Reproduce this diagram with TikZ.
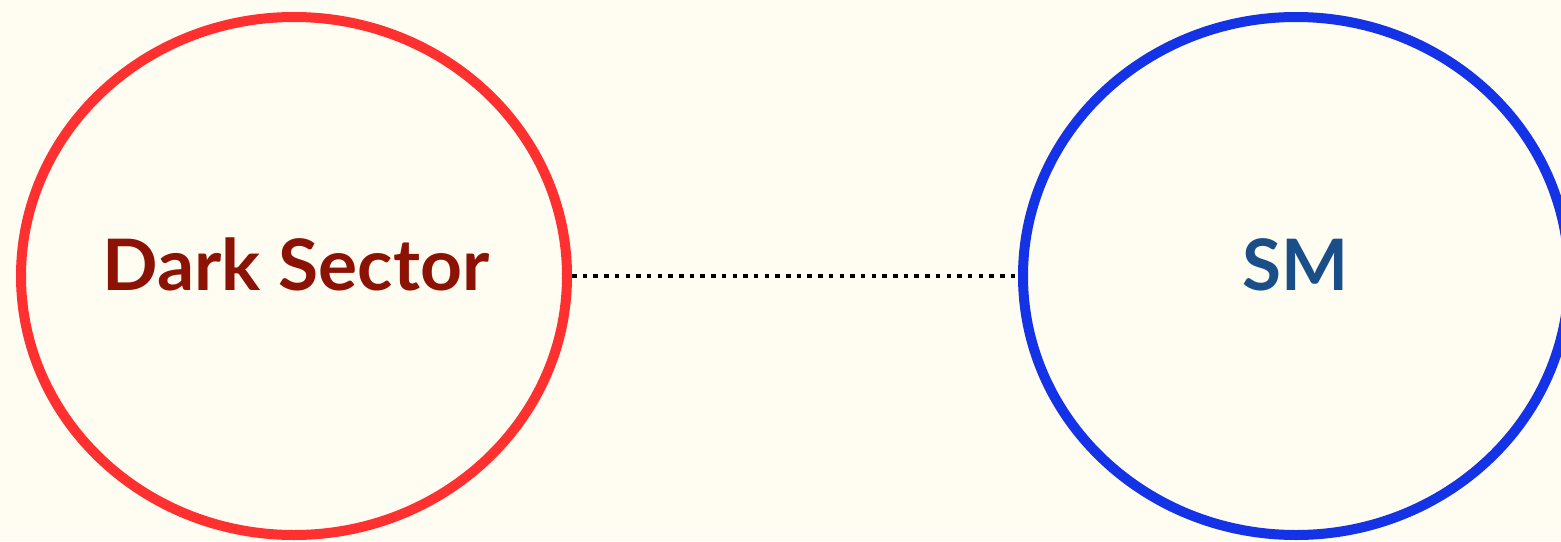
\documentclass[tikz,border=0pt]{standalone}
\usepackage{fontspec}
\setmainfont{Lato}
\usetikzlibrary{shapes.geometric}
\definecolor{bg}{HTML}{FFFDF2}
\definecolor{redline}{HTML}{FF3030}
\definecolor{redtext}{HTML}{8B1205}
\definecolor{blueline}{HTML}{1533E6}
\definecolor{bluetext}{HTML}{1A4E88}
\tikzset{
  sector/.style={ellipse, inner sep=0pt, minimum width=546pt, minimum height=518pt, line width=10pt},
  sectorlabel/.style={anchor=base, inner sep=0pt, font=\fontsize{71}{80}\selectfont\bfseries},
  link/.style={line width=4.5pt, dash pattern=on 4.5pt off 6.2pt, black}
}
\begin{document}
\begin{tikzpicture}[x=1pt,y=-1pt]
\fill[bg] (0,0) rectangle (1561,541);
\useasboundingbox (0,0) rectangle (1561,541);
\node[sector, draw=redline] (ds) at (294,276) {};
\node[sector, draw=blueline] (sm) at (1296,276) {};
\node[sectorlabel, text=redtext, xscale=1.03] (dslabel) at (296,290) {Dark Sector};
\node[sectorlabel, text=bluetext] (smlabel) at (1296,290) {SM};
\draw[link] (ds.east) -- (sm.west);
\end{tikzpicture}
\end{document}
